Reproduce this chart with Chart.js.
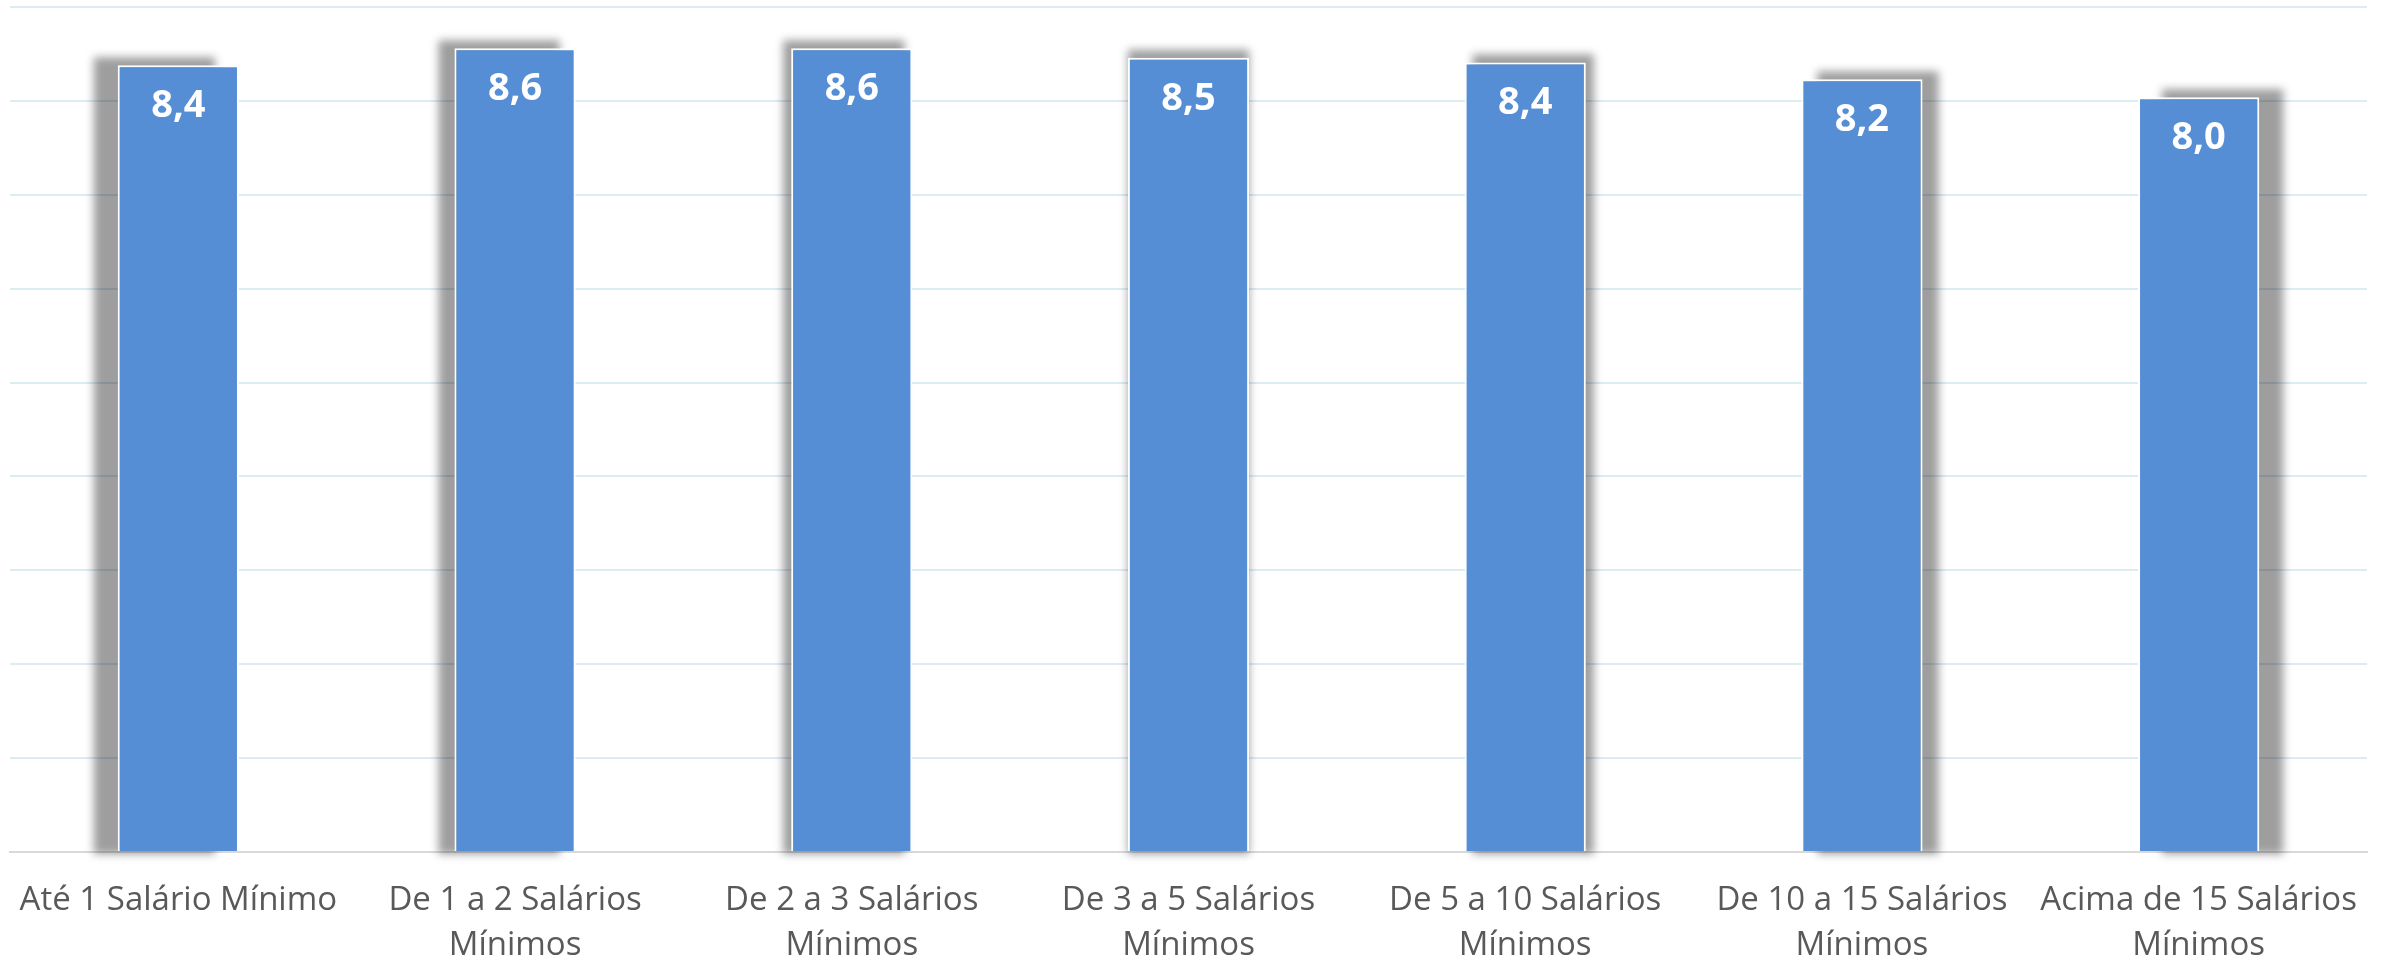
<!DOCTYPE html>
<html>
<head>
<meta charset="utf-8">
<script src="https://cdn.jsdelivr.net/npm/chart.js@4/dist/chart.umd.min.js"></script>
<style>
  html, body { margin: 0; padding: 0; background: #ffffff; }
  #wrap { width: 2381px; height: 964px; }
</style>
</head>
<body>
<div id="wrap"><canvas id="c" width="2381" height="964"></canvas></div>
<script>
const categories = [
  "Até 1 Salário Mínimo",
  ["De 1 a 2 Salários", "Mínimos"],
  ["De 2 a 3 Salários", "Mínimos"],
  ["De 3 a 5 Salários", "Mínimos"],
  ["De 5 a 10 Salários", "Mínimos"],
  ["De 10 a 15 Salários", "Mínimos"],
  ["Acima de 15 Salários", "Mínimos"]
];
const values = [8.38, 8.56, 8.56, 8.46, 8.41, 8.23, 8.04];
const yMin = 0, yMax = 9, yStep = 1;

const fmt = v => v.toFixed(1).replace('.', ',');

const shadowPlugin = {
  id: 'barShadow',
  beforeDatasetsDraw(chart) {
    const ctx = chart.ctx;
    const meta = chart.getDatasetMeta(0);
    const mid = (meta.data.length - 1) / 2;
    ctx.save();
    ctx.filter = 'blur(4px)';
    ctx.fillStyle = 'rgba(0,0,0,0.38)';
    meta.data.forEach((bar, i) => {
      const p = bar.getProps(['x', 'y', 'base', 'width'], true);
      const dx = (i - mid) * 8;
      ctx.fillRect(p.x - p.width / 2 + dx, p.y - 8, p.width, p.base - p.y + 11);
    });
    ctx.restore();
  }
};

const labelPlugin = {
  id: 'barLabels',
  afterDatasetsDraw(chart) {
    const ctx = chart.ctx;
    const meta = chart.getDatasetMeta(0);
    ctx.save();
    ctx.font = 'bold 38px "Open Sans"';
    ctx.fillStyle = '#ffffff';
    ctx.textAlign = 'center';
    ctx.textBaseline = 'middle';
    meta.data.forEach((bar, i) => {
      const p = bar.getProps(['x', 'y'], true);
      ctx.fillText(fmt(values[i]), p.x, p.y + 41);
    });
    ctx.restore();
  }
};

new Chart(document.getElementById('c'), {
  type: 'bar',
  data: {
    labels: categories,
    datasets: [{
      data: values,
      backgroundColor: '#558ED5',
      borderColor: '#ffffff',
      borderWidth: 2,
      borderSkipped: 'bottom',
      categoryPercentage: 1,
      barPercentage: 0.36
    }]
  },
  options: {
    responsive: false,
    animation: false,
    devicePixelRatio: 1,
    layout: { padding: { left: 10, right: 14, top: 7, bottom: 0 } },
    plugins: { legend: { display: false }, tooltip: { enabled: false } },
    scales: {
      x: {
        grid: { display: false, drawTicks: false },
        border: { display: true, color: '#d9d9d9', width: 2 },
        ticks: {
          color: '#595959',
          font: { family: '"Open Sans"', size: 33, lineHeight: 45 / 33 },
          padding: 26,
          maxRotation: 0,
          autoSkip: false
        },
        afterFit: s => { s.height = 112; s.paddingLeft = 0; s.paddingRight = 0; }
      },
      y: {
        min: yMin, max: yMax,
        ticks: { stepSize: yStep, display: false },
        grid: {
          color: c => (c.tick && c.tick.value === 0) ? 'rgba(0,0,0,0)' : '#dcecf3',
          lineWidth: 2,
          drawTicks: false
        },
        border: { display: false },
        afterFit: s => { s.width = 0; s.paddingTop = 0; s.paddingBottom = 0; }
      }
    }
  },
  plugins: [shadowPlugin, labelPlugin]
});
</script>
</body>
</html>
